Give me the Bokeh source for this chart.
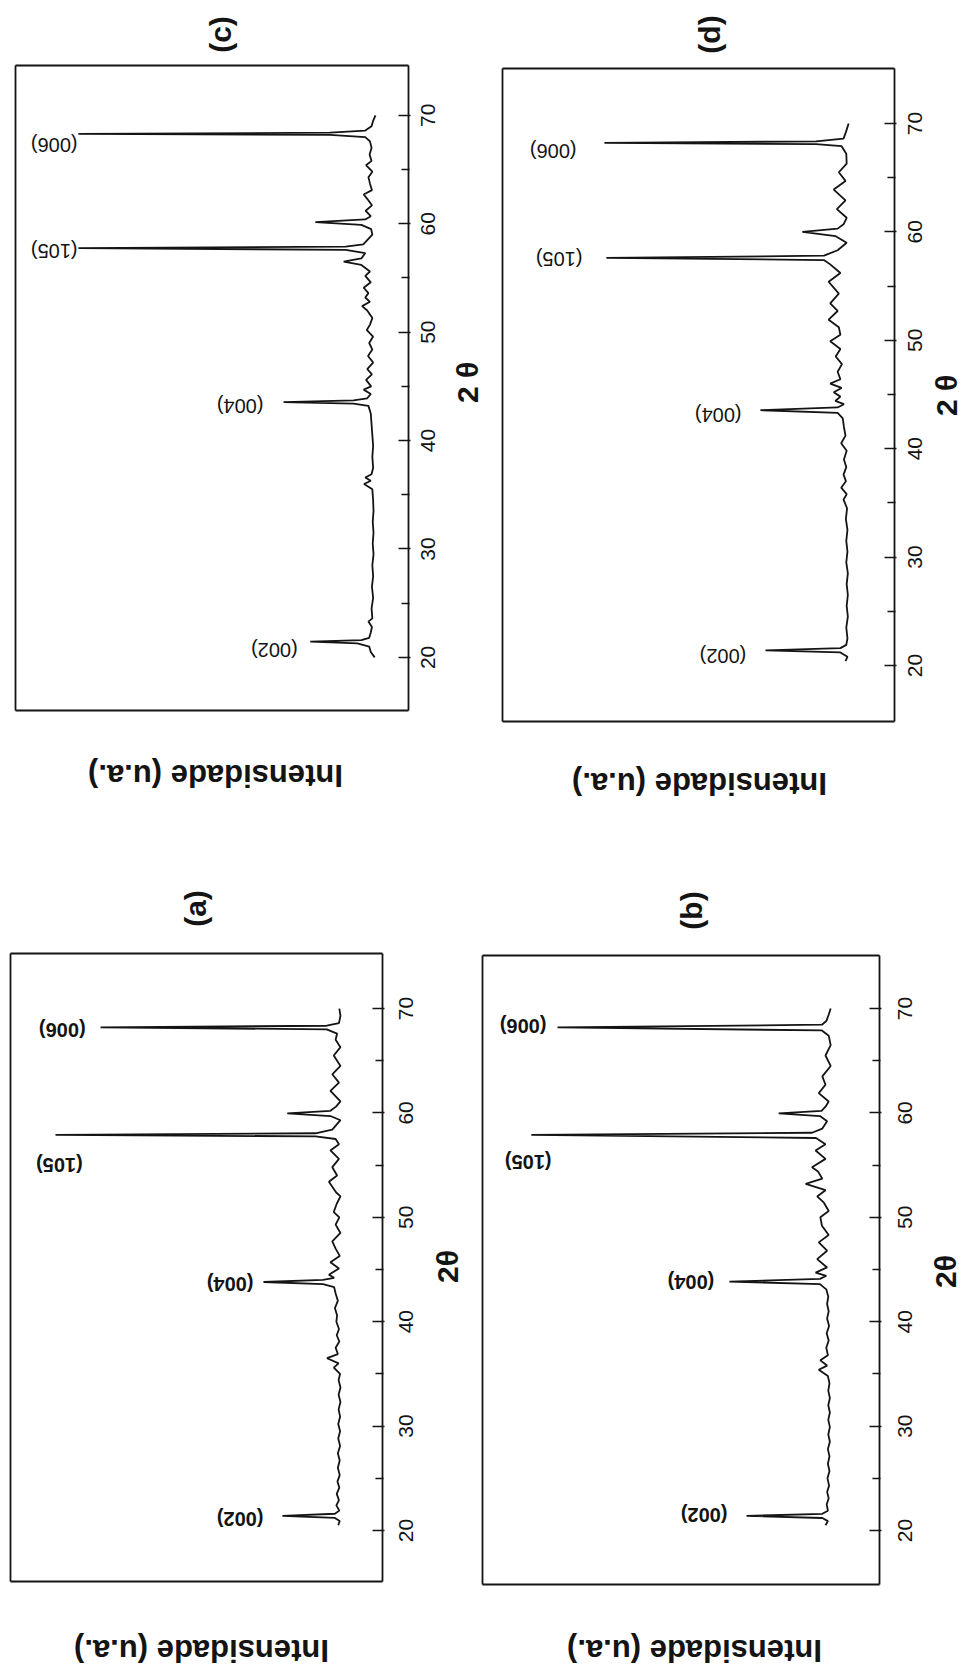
import math
from bokeh.plotting import figure
from bokeh.layouts import row, column
from bokeh.models import Range1d, FixedTicker, LinearAxis
from bokeh.core.properties import value
from bokeh.embed import file_html
from bokeh.resources import INLINE

# ---------------- data ----------------
peak_labels = ["(002)", "(004)", "(105)", "(006)"]
tick_values = [20, 30, 40, 50, 60, 70]
minor_tick_values = [25, 35, 45, 55, 65]
y_label = "Intensidade (u.a.)"

# panel (c): 2theta vs intensity (% of box width)
theta_c = [20.0, 20.5, 21.0, 21.3, 21.45, 21.6, 21.8, 22.3, 22.8, 23.3, 23.6, 24.5, 25.5, 26.5,
           27.5, 28.5, 29.5, 30.5, 31.5, 32.5, 33.5, 34.5, 35.5, 36.0, 36.3, 36.6, 36.9, 37.5,
           38.5, 39.5, 40.5, 41.5, 42.5, 43.2, 43.4, 43.55, 43.7, 43.9, 44.3, 44.7, 45.0, 45.6,
           46.1, 46.6, 47.2, 47.8, 48.4, 49.0, 49.6, 50.2, 50.7, 51.3, 52.0, 52.4, 52.8, 53.2,
           53.6, 54.1, 54.6, 55.2, 55.6, 56.2, 56.5, 56.8, 57.3, 57.6, 57.75, 57.9, 58.1, 58.5,
           59.0, 59.5, 59.9, 60.15, 60.4, 60.7, 61.2, 61.7, 62.3, 62.7, 63.1, 63.7, 64.3, 64.8,
           65.4, 65.8, 66.4, 67.0, 67.6, 68.0, 68.2, 68.3, 68.4, 68.6, 69.0, 69.5, 70.0]
inten_c = [8.6, 9.6, 10.0, 13.0, 25.0, 12.0, 10.0, 9.6, 9.3, 10.2, 9.2, 9.4, 9.0, 9.3,
           9.0, 9.2, 8.9, 9.1, 8.9, 9.1, 8.9, 9.0, 9.2, 11.3, 9.6, 11.0, 9.4, 9.0,
           9.2, 9.0, 9.2, 9.4, 9.6, 10.2, 14.0, 31.8, 14.0, 10.5, 9.6, 11.4, 9.5, 10.8,
           9.3, 10.5, 9.0, 10.3, 9.2, 10.0, 9.0, 10.6, 9.8, 9.2, 10.5, 11.8, 9.8, 11.0,
           10.2, 11.4, 9.6, 11.0, 9.8, 12.0, 16.5, 12.0, 11.0, 16.0, 84.0, 16.0, 11.5, 10.5,
           9.2, 9.5, 12.0, 23.7, 11.0, 9.6, 10.9, 9.3, 10.5, 11.4, 9.3, 9.8, 10.2, 9.2,
           10.8, 9.4, 9.9, 9.4, 9.8, 11.0, 20.0, 84.0, 20.0, 11.0, 9.4, 9.0, 8.4]
lab_theta_c = [20.7, 43.15, 57.45, 67.3]
lab_inten_c = [28.2, 36.9, 84.2, 84.2]

# panel (d)
theta_d = [20.4, 20.8, 21.2, 21.4, 21.6, 21.9, 22.5, 23.5, 24.5, 25.5, 26.5, 27.5, 28.5, 29.5,
           30.5, 31.5, 32.5, 33.5, 34.5, 35.3, 35.8, 36.4, 37.0, 37.6, 38.3, 39.0, 39.8, 40.5,
           41.2, 42.0, 42.8, 43.3, 43.55, 43.8, 44.1, 44.4, 44.8, 45.2, 45.6, 46.0, 46.4, 47.1,
           47.8, 48.5, 49.2, 49.9, 50.5, 51.2, 51.9, 52.7, 53.4, 54.3, 55.4, 56.2, 57.0, 57.4,
           57.6, 57.8, 58.3, 59.0, 59.6, 60.0, 60.3, 60.7, 61.3, 62.1, 62.9, 63.9, 64.7, 65.5,
           66.3, 67.2, 67.9, 68.1, 68.2, 68.35, 68.6, 69.2, 70.0]
inten_d = [12.5, 12.0, 13.8, 32.9, 13.8, 12.3, 12.0, 12.3, 11.9, 12.2, 11.9, 12.2, 11.9, 12.3,
           12.0, 12.3, 12.0, 12.4, 12.1, 13.0, 12.2, 13.6, 12.4, 13.0, 12.3, 12.9, 12.2, 13.6,
           12.5, 12.9, 13.2, 14.5, 34.2, 14.5, 12.9, 15.1, 13.8, 15.5, 13.5, 16.4, 13.8, 14.5,
           13.4, 15.0, 13.8, 16.4, 13.8, 14.2, 16.8, 14.5, 16.4, 14.2, 16.8, 13.8, 16.4, 18.0,
           73.5, 18.0, 14.5, 12.2, 15.0, 23.5, 14.5, 13.0, 12.2, 14.7, 12.5, 15.5, 12.5, 14.2,
           12.2, 12.3, 13.5, 20.0, 74.0, 20.0, 13.0, 12.4, 11.7]
lab_theta_d = [20.9, 43.15, 57.5, 67.5]
lab_inten_d = [37.8, 39.0, 79.6, 81.1]

# panel (a)
theta_a = [20.5, 20.9, 21.2, 21.4, 21.6, 21.9, 22.4, 22.9, 23.5, 24.1, 24.7, 25.3, 26.0, 26.7,
           27.4, 28.1, 28.8, 29.5, 30.2, 30.9, 31.6, 32.3, 33.0, 33.7, 34.4, 35.0, 35.6, 36.0,
           36.5, 36.9, 37.5, 38.1, 38.7, 39.3, 40.0, 40.6, 41.3, 42.0, 42.7, 43.3, 43.6, 43.8,
           44.0, 44.2, 44.5, 45.1, 45.7, 46.3, 47.0, 47.7, 48.5, 49.3, 50.0, 50.5, 51.3, 52.0,
           52.4, 53.4, 54.0, 54.8, 55.6, 56.4, 57.0, 57.5, 57.75, 57.9, 58.05, 58.4, 59.3, 59.7,
           59.95, 60.2, 60.6, 61.1, 62.1, 62.9, 63.7, 64.5, 65.5, 66.3, 67.0, 67.6, 68.0, 68.2,
           68.35, 68.6, 69.3, 70.0]
inten_a = [11.9, 11.5, 12.8, 26.9, 12.8, 11.6, 12.4, 11.7, 12.3, 11.6, 12.1, 11.5, 12.0, 11.5,
           12.0, 11.4, 11.9, 11.4, 11.9, 11.4, 11.8, 11.3, 11.8, 11.3, 11.8, 11.4, 13.1, 11.8,
           14.9, 12.0, 12.6, 11.6, 12.3, 11.7, 12.4, 12.2, 12.8, 12.0, 12.6, 13.0, 16.0, 32.0,
           16.0, 13.0, 14.4, 11.7, 14.0, 11.5, 12.6, 13.5, 11.3, 12.6, 11.6, 13.1, 12.3, 11.3,
           12.5, 14.4, 12.2, 13.5, 11.7, 14.0, 11.7, 12.6, 18.0, 87.9, 18.0, 13.5, 11.3, 14.0,
           25.6, 14.0, 12.5, 11.3, 14.0, 11.7, 13.5, 11.3, 13.1, 11.3, 12.6, 12.2, 15.0, 75.8,
           15.0, 11.7, 11.3, 11.6]
lab_theta_a = [21.1, 43.6, 55.0, 67.9]
lab_inten_a = [32.0, 34.7, 80.6, 79.8]

# panel (b)
theta_b = [20.5, 20.9, 21.2, 21.4, 21.6, 21.9, 22.5, 23.1, 23.7, 24.3, 25.0, 25.7, 26.4, 27.1,
           27.8, 28.5, 29.2, 29.9, 30.6, 31.3, 32.0, 32.7, 33.4, 34.1, 34.8, 35.4, 35.8, 36.3,
           36.8, 37.5, 38.2, 38.9, 39.6, 40.3, 41.0, 41.7, 42.4, 43.1, 43.6, 43.85, 44.1, 44.4,
           44.7, 45.2, 46.0, 46.8, 47.6, 48.3, 49.2, 50.0, 50.6, 51.4, 52.0, 52.6, 53.2, 53.7,
           54.4, 54.8, 55.6, 56.4, 57.0, 57.6, 57.9, 58.1, 58.5, 59.2, 59.7, 59.95, 60.2, 60.6,
           61.1, 61.9, 62.7, 63.5, 64.5, 65.5, 66.5, 67.4, 67.9, 68.2, 68.45, 68.8, 69.4, 70.0]
inten_b = [13.6, 13.0, 14.4, 33.5, 14.4, 13.0, 13.3, 12.8, 13.2, 12.7, 13.1, 12.6, 13.0, 12.6,
           13.0, 12.5, 12.9, 12.5, 12.9, 12.5, 12.9, 12.5, 12.9, 12.6, 13.0, 15.3, 13.2, 14.9,
           13.0, 13.4, 12.8, 13.3, 12.7, 13.2, 12.8, 13.2, 12.9, 13.4, 15.0, 37.8, 15.0, 13.4,
           16.1, 13.2, 15.7, 13.2, 15.3, 12.8, 14.5, 14.9, 12.8, 14.0, 15.7, 13.6, 18.6, 14.4,
           15.5, 17.0, 13.6, 16.1, 13.6, 16.0, 87.7, 17.0, 14.4, 13.2, 15.0, 25.4, 14.6, 13.6,
           12.8, 15.3, 13.6, 14.4, 12.3, 13.6, 12.3, 12.8, 14.5, 81.1, 14.5, 13.4, 12.8, 12.3]
lab_theta_b = [21.5, 43.8, 55.3, 68.3]
lab_inten_b = [38.3, 41.6, 82.6, 83.9]

FONT = value("Liberation Sans")
INK = "#141414"


def style_axis(ax):
    ax.axis_line_color = INK
    ax.axis_line_width = 1.8
    ax.major_tick_line_color = INK
    ax.minor_tick_line_color = INK
    ax.major_tick_line_width = 1.6
    ax.minor_tick_line_width = 1.6


def bare_axis(ax):
    ax.ticker = FixedTicker(ticks=[])
    ax.major_tick_in = 0
    ax.major_tick_out = 0
    ax.minor_tick_in = 0
    ax.minor_tick_out = 0
    style_axis(ax)


def panel(theta, inten, lab_t, lab_i, title, xlabel, bold, fig_rect, box_rect, box_yr, txt):
    """fig_rect / box_rect / txt are page-pixel layout values (left, top, right, bottom)."""
    X0, Y0, X1, Y1 = fig_rect
    FL, FT, FR, FB = box_rect
    y0, y1 = box_yr
    fw = FR - FL
    ppu = (FB - FT) / (y1 - y0)

    def ix(px):   # page x -> intensity units (box right = 0, box left = 100)
        return (FR - px) / fw * 100.0

    def ty(py):   # page y -> 2theta units
        return y0 + (FB - py) / ppu

    p = figure(width=X1 - X0, height=Y1 - Y0,
               x_range=Range1d(ix(X0), ix(X1)), y_range=Range1d(ty(Y1), ty(Y0)),
               y_axis_location="right", toolbar_location=None, output_backend="svg",
               min_border=0, background_fill_color="white", border_fill_color="white")
    p.outline_line_color = None
    p.xgrid.visible = False
    p.ygrid.visible = False

    # 2theta axis = right edge of the box
    ya = p.yaxis[0]
    ya.fixed_location = 0.0
    ya.bounds = (y0, y1)
    ya.ticker = FixedTicker(ticks=tick_values, minor_ticks=minor_tick_values)
    ya.major_label_overrides = {t: "" for t in tick_values}
    ya.major_tick_in = 10
    ya.major_tick_out = 2
    ya.minor_tick_in = 7
    ya.minor_tick_out = 1
    style_axis(ya)

    # intensity axis = bottom edge of the box
    xa = p.xaxis[0]
    xa.fixed_location = y0
    xa.bounds = (0, 100)
    bare_axis(xa)

    # closing edges of the box
    la = LinearAxis(fixed_location=100.0, bounds=(y0, y1))
    bare_axis(la)
    p.add_layout(la, "left")
    ta = LinearAxis(fixed_location=y1, bounds=(0, 100))
    bare_axis(ta)
    p.add_layout(ta, "above")

    # spectrum
    p.line(inten, theta, line_color=INK, line_width=1.8)
    p.text(x=lab_i, y=lab_t, text=peak_labels, angle=math.pi, text_align="left",
           text_baseline="middle", text_font=FONT, text_font_size="20px",
           text_font_style="bold" if bold else "normal", text_color=INK)

    tick_x, t2_x, t2_y, yl_x, yl_y, ti_x, ti_y = txt
    # tick labels, written sideways (bottom to top)
    p.text(x=[ix(tick_x)] * len(tick_values), y=tick_values,
           text=[str(t) for t in tick_values], angle=math.pi / 2, text_align="center",
           text_baseline="middle", text_font=FONT, text_font_size="21px", text_color=INK)
    # 2theta label
    p.text(x=[ix(t2_x)], y=[ty(t2_y)], text=[xlabel], angle=math.pi / 2, text_align="center",
           text_baseline="middle", text_font=FONT, text_font_size="30px",
           text_font_style="bold", text_color=INK)
    # intensity label (upside down)
    p.text(x=[ix(yl_x)], y=[ty(yl_y)], text=[y_label], angle=math.pi, text_align="center",
           text_baseline="middle", text_font=FONT, text_font_size="31px",
           text_font_style="bold", text_color=INK)
    # panel tag
    p.text(x=[ix(ti_x)], y=[ty(ti_y)], text=[title], angle=math.pi / 2, text_align="center",
           text_baseline="middle", text_font=FONT, text_font_size="30px",
           text_font_style="bold", text_color=INK)
    return p


pc = panel(theta_c, inten_c, lab_theta_c, lab_inten_c, "(c)", "2 θ", False,
           (0, 0, 490, 840), (15, 65, 408, 710), (15.1, 74.6),
           (427, 467, 382, 215, 775, 220, 34))
pd = panel(theta_d, inten_d, lab_theta_d, lab_inten_d, "(d)", "2 θ", False,
           (490, 0, 968, 840), (502, 68, 894, 721), (14.83, 75.07),
           (914, 946, 395, 699, 783, 709, 34))
pa = panel(theta_a, inten_a, lab_theta_a, lab_inten_a, "(a)", "2θ", True,
           (0, 840, 470, 1672), (10, 953, 382, 1581), (15.11, 75.27),
           (405, 447, 1266, 201, 1650, 195, 908))
pb = panel(theta_b, inten_b, lab_theta_b, lab_inten_b, "(b)", "2θ", True,
           (470, 840, 968, 1672), (482, 955, 879, 1584), (14.83, 75.08),
           (904, 945, 1271, 694, 1650, 691, 910))

layout = column(row(pc, pd), row(pa, pb))
open("out.html", "w").write(file_html(layout, INLINE))
